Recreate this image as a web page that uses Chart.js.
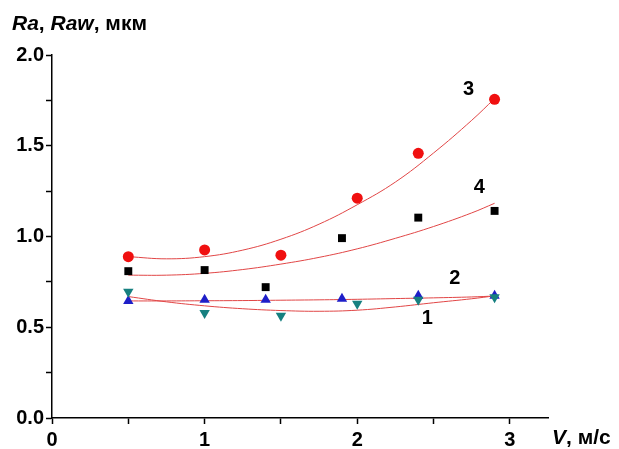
<!DOCTYPE html>
<html>
<head>
<meta charset="utf-8">
<script src="https://cdn.jsdelivr.net/npm/chart.js@4.4.0/dist/chart.umd.min.js"></script>
<style>
  body { margin: 0; background: #fff; }
  #box { width: 619px; height: 449px; }
</style>
</head>
<body>
<div id="box"><canvas id="grafico"></canvas></div>
<script>
// measured points, V (m/s) vs roughness (um)
const x_pts3 = [0.5, 1.0, 1.5, 2.0, 2.4, 2.9]
const y_pts3 = [0.889, 0.926, 0.897, 1.211, 1.458, 1.756]
const x_pts4 = [0.5, 1.0, 1.4, 1.9, 2.4, 2.9]
const y_pts4 = [0.809, 0.815, 0.721, 0.991, 1.104, 1.141]
const x_pts2 = [0.5, 1.0, 1.4, 1.9, 2.4, 2.9]
const y_pts2 = [0.644, 0.651, 0.651, 0.657, 0.673, 0.673]
const x_pts1 = [0.5, 1.0, 1.5, 2.0, 2.4, 2.9]
const y_pts1 = [0.695, 0.578, 0.563, 0.629, 0.651, 0.665]

// fitted curves
const x_fit = [0.5, 0.75, 1.0, 1.25, 1.5, 1.75, 2.0, 2.25, 2.5, 2.75, 2.9]
const fit3 = [0.889, 0.877, 0.889, 0.925, 0.985, 1.068, 1.175, 1.30, 1.46, 1.64, 1.76]
const fit4 = [0.787, 0.787, 0.797, 0.818, 0.848, 0.885, 0.932, 0.99, 1.055, 1.13, 1.183]
const fit2 = [0.645, 0.645, 0.646, 0.647, 0.649, 0.651, 0.654, 0.658, 0.662, 0.667, 0.672]
const fit1 = [0.669, 0.64, 0.618, 0.602, 0.592, 0.588, 0.594, 0.612, 0.635, 0.657, 0.673]

const curve_names = ['1', '2', '3', '4']
const curve_lbl_x = [2.46, 2.64, 2.73, 2.80]
const curve_lbl_y = [0.55, 0.77, 1.81, 1.27]

const fonte = '"Liberation Sans", Arial, sans-serif'
const cor_fit = 'rgb(225, 70, 70)'

function pontos(xs, ys) {
    return xs.map((x, i) => ({ x: x, y: ys[i] }))
}

function serieFit(ys) {
    return {
        type: 'line',
        data: pontos(x_fit, ys),
        borderColor: cor_fit,
        borderWidth: 1,
        pointRadius: 0,
        tension: 0.4,
        fill: false,
        order: 5,
    }
}

function seriePontos(xs, ys, cor, estilo, raio, rot) {
    return {
        type: 'scatter',
        data: pontos(xs, ys),
        backgroundColor: cor,
        borderColor: cor,
        borderWidth: 0,
        pointStyle: estilo,
        pointRadius: raio,
        pointRotation: rot || 0,
        order: 1,
    }
}

const textos = {
    id: 'textos',
    afterDraw(chart) {
        const ctx = chart.ctx
        const sx = chart.scales.x
        const sy = chart.scales.y
        ctx.save()
        ctx.fillStyle = '#000'
        ctx.textBaseline = 'alphabetic'

        // curve numbers
        ctx.font = 'bold 20px ' + fonte
        ctx.textAlign = 'center'
        ctx.textBaseline = 'middle'
        curve_names.forEach((n, i) => {
            ctx.fillText(n, sx.getPixelForValue(curve_lbl_x[i]), sy.getPixelForValue(curve_lbl_y[i]))
        })

        // axis titles with italic symbols
        ctx.textAlign = 'left'
        ctx.textBaseline = 'alphabetic'
        const partes = (lista, x, y) => {
            lista.forEach(p => {
                ctx.font = (p[1] ? 'italic ' : '') + 'bold 21px ' + fonte
                ctx.fillText(p[0], x, y)
                x += ctx.measureText(p[0]).width
            })
        }
        partes([['Ra', true], [', ', false], ['Raw', true], [', мкм', false]], 12, 30)
        partes([['V', true], [', м/с', false]], 552, 444)
        ctx.restore()
    }
}

const config = {
    data: {
        datasets: [
            serieFit(fit3),
            serieFit(fit4),
            serieFit(fit2),
            serieFit(fit1),
            seriePontos(x_pts3, y_pts3, 'rgb(240, 16, 16)', 'circle', 5.5),
            seriePontos(x_pts4, y_pts4, '#000', 'rect', 5.6),
            seriePontos(x_pts1, y_pts1, 'rgb(22, 128, 128)', 'triangle', 6, 180),
            seriePontos(x_pts2, y_pts2, 'rgb(30, 30, 200)', 'triangle', 6),
        ]
    },
    options: {
        responsive: true,
        maintainAspectRatio: false,
        animation: false,
        layout: { padding: { top: 55, right: 71, bottom: 0, left: 0 } },
        plugins: { legend: { display: false }, tooltip: { enabled: false } },
        scales: {
            x: {
                type: 'linear',
                min: 0,
                max: 3.25,
                border: { display: true, color: '#000', width: 1.5 },
                grid: { drawOnChartArea: false, drawTicks: true, tickLength: 6, tickColor: '#000', tickWidth: 1.5 },
                ticks: {
                    stepSize: 0.5,
                    includeBounds: false,
                    autoSkip: false,
                    maxRotation: 0,
                    padding: 4,
                    color: '#000',
                    font: { family: fonte, size: 20, weight: 'bold' },
                    callback: v => (v % 1 === 0 ? String(v) : '')
                },
                afterFit: s => { s.height = 31 }
            },
            y: {
                min: 0,
                max: 2,
                border: { display: true, color: '#000', width: 1.5 },
                grid: { drawOnChartArea: false, drawTicks: true, tickLength: 6, tickColor: '#000', tickWidth: 1.5 },
                ticks: {
                    stepSize: 0.25,
                    autoSkip: false,
                    padding: 2,
                    color: '#000',
                    font: { family: fonte, size: 20, weight: 'bold' },
                    callback: v => ((v * 2) % 1 === 0 ? v.toFixed(1) : '')
                },
                afterFit: s => { s.width = 52 }
            }
        }
    },
    plugins: [textos]
}

const grafico = new Chart(document.getElementById('grafico'), config)
</script>
</body>
</html>
